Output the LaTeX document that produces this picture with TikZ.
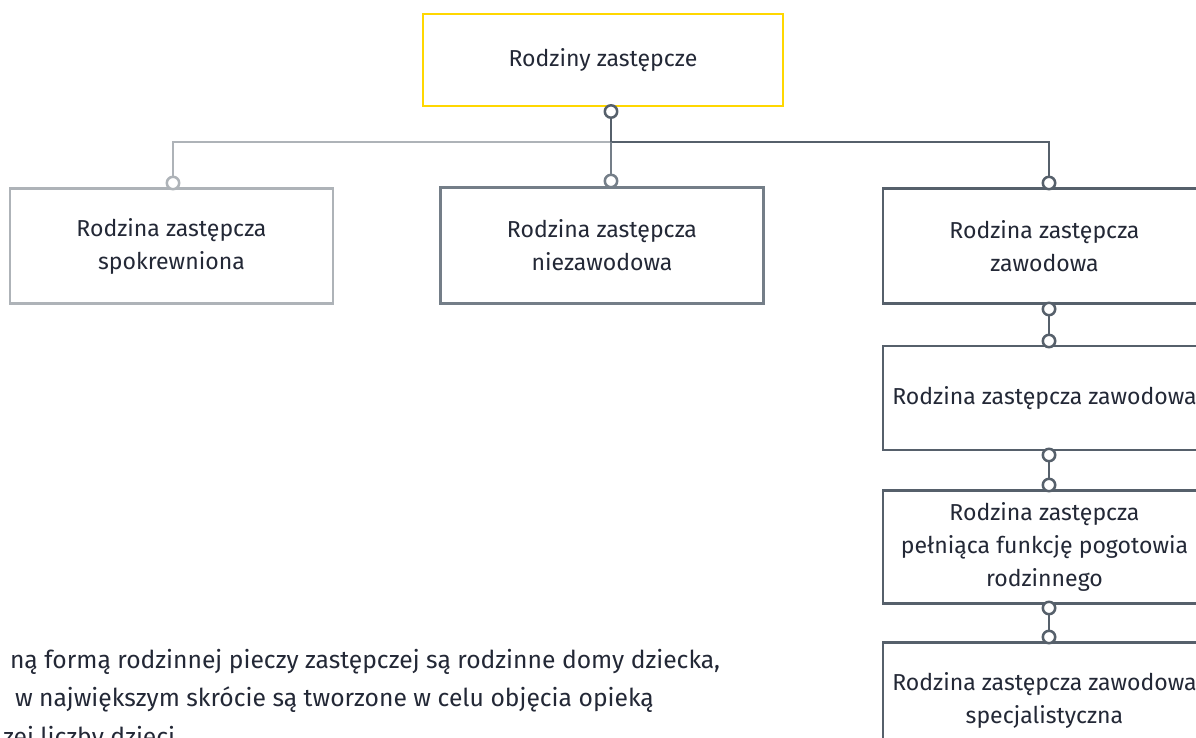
\documentclass[tikz,border=0pt]{standalone}
\usepackage{fontspec}
\IfFontExistsTF{Fira Sans Book}{\setmainfont{Fira Sans Book}}{\setmainfont{Fira Sans}}
\usetikzlibrary{calc}
\definecolor{eyyellow}{HTML}{FFD700}
\definecolor{txt}{HTML}{232836}
\definecolor{lgray}{HTML}{AEB3B8}
\definecolor{mgray}{HTML}{747E88}
\definecolor{dgray}{HTML}{56606B}
\newcommand{\boxfont}{\fontsize{17.3}{24.75}\selectfont}
\newcommand{\parafont}{\fontsize{18.5}{28.5}\selectfont}
\begin{document}
\begin{tikzpicture}[x=0.75pt,y=-0.75pt,
  box/.style={draw, line width=1.8pt, fill=white, inner sep=0pt, outer sep=0pt,
    align=center, text=txt, font=\boxfont, minimum width=242.25pt},
  dot/.style={circle, draw=#1, fill=white, line width=1.9pt, inner sep=0pt,
    outer sep=0pt, minimum size=9.3pt},
  conn/.style={line width=1.9pt, draw=#1},
  para/.style={text=txt, font=\parafont, inner sep=0pt, outer sep=0pt, anchor=base west}
]
\useasboundingbox (0,0) rectangle (1196,738);
\clip (0,0) rectangle (1196,738);

% boxes
\node[box, draw=eyyellow, minimum width=270pt, minimum height=69pt] (top) at (603,60) {Rodziny zastępcze};
\node[box, draw=lgray, minimum height=86.25pt] (spok) at (171.5,246) {Rodzina zastępcza\\spokrewniona};
\node[box, draw=mgray, minimum height=87pt] (niez) at (602,245.5) {Rodzina zastępcza\\niezawodowa};
\node[box, draw=dgray, minimum height=86.25pt] (zaw) at (1044.5,246) {Rodzina zastępcza\\zawodowa};
\node[box, draw=dgray, minimum height=78pt] (zaw1) at (1044.5,398) {Rodzina zastępcza zawodowa};
\node[box, draw=dgray, minimum height=84.75pt] (pog) at (1044.5,547) {Rodzina zastępcza\\pełniąca funkcję pogotowia\\rodzinnego};
\node[box, draw=dgray, minimum height=86.25pt] (spec) at (1044.5,700) {Rodzina zastępcza zawodowa\\specjalistyczna};

% junction
\coordinate (j) at (611,142);

% circles
\node[dot=dgray] (c0) at (611,111.5) {};
\node[dot=lgray] (cL) at (173,183) {};
\node[dot=mgray] (cM) at (611,181) {};
\node[dot=dgray] (cR) at (1049,183) {};
\node[dot=dgray] (c1a) at (1049,309) {};
\node[dot=dgray] (c1b) at (1049,341) {};
\node[dot=dgray] (c2a) at (1049,455) {};
\node[dot=dgray] (c2b) at (1049,485) {};
\node[dot=dgray] (c3a) at (1049,608) {};
\node[dot=dgray] (c3b) at (1049,637) {};

% connectors
\draw[conn=lgray] (j) -| (cL);
\draw[conn=dgray] (j) -| (cR);
\draw[conn=mgray] (j) -- (cM);
\draw[conn=dgray] (c0) -- (j);
\draw[conn=dgray] (c1a) -- (c1b);
\draw[conn=dgray] (c2a) -- (c2b);
\draw[conn=dgray] (c3a) -- (c3b);

% paragraph (cut off by the frame)
\node[para] (t1) at (10,668) {ną formą rodzinnej pieczy zastępczej są rodzinne domy dziecka,};
\node[para] (t2) at (15,706) {w największym skrócie są tworzone w celu objęcia opieką};
\node[para] (t3) at (3,745) {zej liczby dzieci};
\end{tikzpicture}
\end{document}
